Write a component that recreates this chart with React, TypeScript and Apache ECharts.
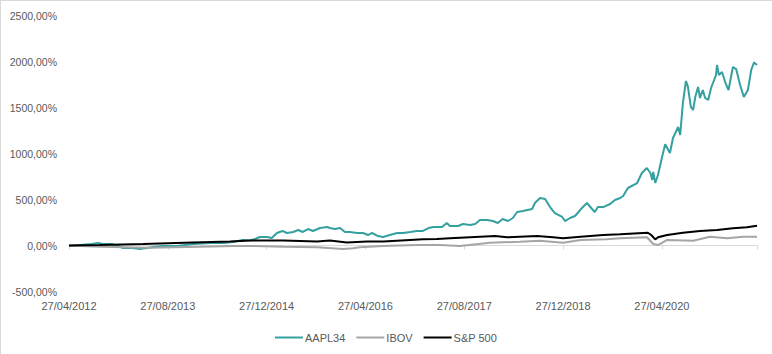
import React, { useEffect, useRef } from "react";
import * as echarts from "echarts";

const seriesNames = ["AAPL34", "IBOV", "S&P 500"];
const seriesColors = ["#34A0A0", "#A5A5A5", "#000000"];

const aaplDates = [
  "2012-04-27", "2012-06-20", "2012-08-18", "2012-09-17", "2012-10-12", "2012-11-25", "2012-12-26",
  "2013-01-18", "2013-03-05", "2013-04-11", "2013-05-16", "2013-06-14", "2013-08-03", "2013-10-12",
  "2013-12-29", "2014-03-24", "2014-05-26", "2014-07-14", "2014-09-01", "2014-10-06", "2014-10-31",
  "2014-11-24", "2014-12-29", "2015-01-22", "2015-02-17", "2015-03-14", "2015-04-05", "2015-05-06",
  "2015-05-30", "2015-06-23", "2015-07-18", "2015-08-12", "2015-09-16", "2015-10-21", "2015-11-04",
  "2015-11-29", "2015-12-24", "2016-01-17", "2016-02-11", "2016-03-17", "2016-04-15", "2016-05-10",
  "2016-05-29", "2016-06-28", "2016-07-23", "2016-08-26", "2016-10-01", "2016-10-30", "2016-12-04",
  "2017-01-07", "2017-02-06", "2017-03-03", "2017-03-28", "2017-05-09", "2017-06-02", "2017-06-17",
  "2017-07-27", "2017-08-21", "2017-09-25", "2017-10-20", "2017-11-13", "2017-12-18", "2018-01-16",
  "2018-02-10", "2018-03-03", "2018-03-30", "2018-04-23", "2018-05-14", "2018-06-12", "2018-07-27",
  "2018-08-10", "2018-09-05", "2018-09-30", "2018-10-24", "2018-11-17", "2018-12-23", "2019-01-06",
  "2019-01-31", "2019-02-25", "2019-03-12", "2019-03-29", "2019-04-23", "2019-05-18", "2019-06-01",
  "2019-06-16", "2019-07-12", "2019-08-15", "2019-09-09", "2019-10-04", "2019-10-19", "2019-11-12",
  "2019-12-27", "2020-01-20", "2020-02-14", "2020-03-01", "2020-03-10", "2020-03-15", "2020-03-25",
  "2020-04-08", "2020-04-28", "2020-05-13", "2020-06-06", "2020-06-21", "2020-07-16", "2020-07-26",
  "2020-08-09", "2020-08-24", "2020-09-03", "2020-09-18", "2020-09-29", "2020-10-09", "2020-10-23",
  "2020-11-02", "2020-11-16", "2020-11-27", "2020-12-12", "2020-12-26", "2021-01-20", "2021-01-25",
  "2021-02-04", "2021-02-19", "2021-03-06", "2021-03-21", "2021-04-12", "2021-04-28", "2021-05-17",
  "2021-06-05", "2021-06-25", "2021-07-11", "2021-07-25", "2021-08-09"
];
const aaplValues = [
  -5, 5, 16, 27, 16, 16, -5,
  -27, -27, -38, -27, -16, -5, -5,
  16, 27, 27, 38, 60, 55, 71,
  92, 92, 82, 136, 158, 136, 147,
  168, 147, 179, 158, 190, 201, 190,
  179, 190, 147, 147, 136, 136, 114,
  136, 103, 92, 114, 136, 136, 147,
  158, 158, 190, 201, 201, 245, 212,
  212, 234, 223, 234, 277, 277, 266,
  245, 288, 266, 299, 364, 375, 397,
  462, 516, 505, 418, 353, 310, 266,
  299, 321, 364, 408, 462, 397, 364,
  418, 418, 451, 495, 516, 538, 625,
  679, 788, 842, 788, 712, 799, 679,
  766, 962, 1100, 1005, 1168, 1288, 1201,
  1549, 1788, 1730, 1505, 1473, 1614, 1723,
  1603, 1690, 1603, 1582, 1712, 1853, 1962,
  1853, 1886, 1766, 1690, 1940, 1918, 1745,
  1614, 1690, 1908, 1990, 1962
];

const ibovDates = [
  "2012-04-27", "2012-09-27", "2013-05-30", "2014-02-02", "2014-07-14", "2014-10-06", "2015-03-19",
  "2015-09-01", "2016-01-08", "2016-02-26", "2016-03-31", "2016-07-23", "2017-01-07", "2017-04-29",
  "2017-08-06", "2018-01-02", "2018-05-27", "2018-09-05", "2018-12-27", "2019-03-22", "2019-07-30",
  "2019-10-04", "2020-02-14", "2020-03-15", "2020-04-08", "2020-05-23", "2020-09-29", "2020-12-21",
  "2021-03-14", "2021-06-01", "2021-08-09"
];
const ibovValues = [
  0, -13, -24, -13, -5, -5, -13,
  -20, -38, -30, -20, -5, 5, 5,
  -5, 30, 41, 52, 30, 60, 67,
  78, 89, 16, 5, 60, 52, 96,
  78, 96, 96
];

const spxDates = [
  "2012-04-27", "2012-09-27", "2013-04-27", "2013-12-29", "2014-06-29", "2014-10-06", "2015-03-19",
  "2015-09-01", "2015-11-04", "2016-01-27", "2016-05-05", "2016-07-23", "2016-12-04", "2017-02-06",
  "2017-04-14", "2017-06-17", "2017-09-25", "2018-01-27", "2018-03-25", "2018-08-20", "2018-11-08",
  "2018-12-27", "2019-03-22", "2019-07-12", "2019-10-04", "2020-02-19", "2020-03-05", "2020-03-25",
  "2020-04-08", "2020-05-23", "2020-08-09", "2020-11-02", "2021-01-25", "2021-04-12", "2021-06-20",
  "2021-08-09"
];
const spxValues = [
  0, 5, 16, 33, 43, 54, 54,
  43, 54, 33, 43, 43, 60, 67,
  71, 78, 89, 103, 89, 103, 89,
  78, 96, 114, 122, 139, 114, 67,
  89, 114, 139, 158, 168, 187, 198,
  215
];

const yTicks = { min: -500, max: 2500, step: 500 };
const tickMonths = 16;

// months elapsed since 27/04/2012
const monthIndex = (s: string) => {
  const [y, m, d] = s.split("-").map(Number);
  return (y - 2012) * 12 + (m - 4) + (d - 27) / 30.4;
};

const pad = (n: number) => (n < 10 ? "0" + n : "" + n);

const dateLabel = (v: number) => {
  const r = Math.round(v);
  if (Math.abs(v - r) > 1e-6 || r % tickMonths !== 0) return "";
  const total = 3 + r;
  const y = 2012 + Math.floor(total / 12);
  const mo = (total % 12) + 1;
  return `27/${pad(mo)}/${y}`;
};

const pctLabel = (v: number) => v.toFixed(2).replace(".", ",") + "%";

export default function App() {
  const ref = useRef<HTMLDivElement>(null);

  useEffect(() => {
    document.body.style.margin = "0";
    if (!ref.current) return;
    const chart = echarts.init(ref.current, undefined, { renderer: "svg" });
    const endM = monthIndex(aaplDates[aaplDates.length - 1]);
    const toPairs = (dates: string[], vals: number[]) => dates.map((d, i) => [monthIndex(d), vals[i]]);
    const font = "'Liberation Sans', Arial, sans-serif";

    chart.setOption({
      animation: false,
      backgroundColor: "#FFFFFF",
      textStyle: { fontFamily: font },
      grid: { left: 69, right: 15, top: 15.5, bottom: 62.5, containLabel: false },
      legend: {
        data: seriesNames,
        top: 327,
        left: "center",
        icon: "rect",
        itemWidth: 28,
        itemHeight: 2,
        itemGap: 11,
        textStyle: { color: "#595959", fontSize: 11, fontFamily: font, padding: [0, 0, 0, -3] },
      },
      xAxis: [
        {
          type: "value",
          min: 0,
          max: endM,
          interval: tickMonths,
          axisLine: { show: true, onZero: true, lineStyle: { color: "#D9D9D9", width: 1 } },
          axisTick: { show: true, length: 4, lineStyle: { color: "#D9D9D9" } },
          axisLabel: { show: false },
          splitLine: { show: false },
        },
        {
          type: "value",
          position: "bottom",
          min: 0,
          max: endM,
          interval: tickMonths,
          axisLine: { show: false, onZero: false },
          axisTick: { show: false },
          axisLabel: {
            show: true,
            formatter: dateLabel,
            showMaxLabel: false,
            color: "#595959",
            fontSize: 11,
            margin: 9,
            fontFamily: font,
          },
          splitLine: { show: false },
        },
      ],
      yAxis: {
        type: "value",
        min: yTicks.min,
        max: yTicks.max,
        interval: yTicks.step,
        axisLine: { show: false },
        axisTick: { show: false },
        splitLine: { show: false },
        axisLabel: { formatter: pctLabel, color: "#595959", fontSize: 10.5, margin: 12, fontFamily: font },
      },
      graphic: [
        { type: "line", shape: { x1: 0, y1: 0.5, x2: 772, y2: 0.5 }, style: { stroke: "#D9D9D9", lineWidth: 1 } },
        { type: "line", shape: { x1: 0.5, y1: 0, x2: 0.5, y2: 354 }, style: { stroke: "#D9D9D9", lineWidth: 1 } },
      ],
      series: [
        {
          name: seriesNames[0],
          type: "line",
          data: toPairs(aaplDates, aaplValues),
          showSymbol: false,
          color: seriesColors[0],
          lineStyle: { width: 2, color: seriesColors[0] },
        },
        {
          name: seriesNames[1],
          type: "line",
          data: toPairs(ibovDates, ibovValues),
          showSymbol: false,
          color: seriesColors[1],
          lineStyle: { width: 2, color: seriesColors[1] },
        },
        {
          name: seriesNames[2],
          type: "line",
          data: toPairs(spxDates, spxValues),
          showSymbol: false,
          color: seriesColors[2],
          lineStyle: { width: 2, color: seriesColors[2] },
        },
      ],
    });
    return () => chart.dispose();
  }, []);

  return <div ref={ref} style={{ width: 772, height: 354 }} />;
}
